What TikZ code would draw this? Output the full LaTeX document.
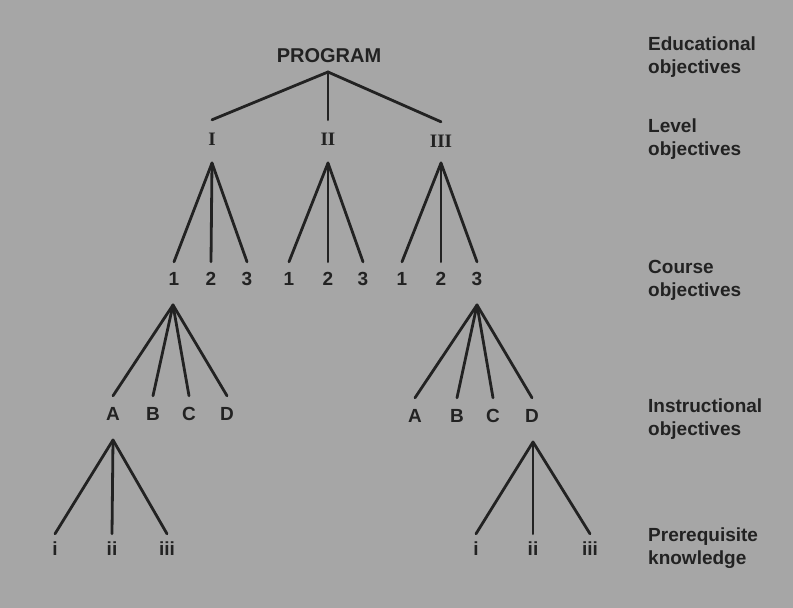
\documentclass[tikz,border=0pt]{standalone}
\usepackage{fontspec}
\setsansfont{Liberation Sans}
\newfontfamily\romfont{Liberation Serif}
\definecolor{bg}{RGB}{166,166,166}
\definecolor{ink}{RGB}{34,34,34}
\begin{document}
\begin{tikzpicture}[x=1pt,y=-1pt,
  every node/.style={text=ink},
  edge/.style={draw=ink,line width=2.8pt,line cap=round},
  lab/.style={font=\sffamily\bfseries\fontsize{19}{19}\selectfont, text height=14pt, text depth=0pt, inner xsep=1pt},
  roman/.style={font=\romfont\bfseries\fontsize{19}{19}\selectfont, text height=13pt, text depth=0pt, inner xsep=1pt, inner ysep=12.5pt},
  course/.style={lab, inner ysep=9pt},
  instr/.style={lab, inner ysep=10pt},
  prereq/.style={lab, inner ysep=7pt},
  side/.style={font=\sffamily\bfseries\fontsize{19}{23}\selectfont, anchor=west, align=left, inner sep=0pt}]
\fill[bg] (0,0) rectangle (793,608);
\useasboundingbox (0,0) rectangle (793,608);
% top
\node[lab, font=\sffamily\bfseries\fontsize{20}{20}\selectfont] (prog) at (329,55) {PROGRAM};
\coordinate (ap) at (328,72);
\node[roman] (r1) at (212,139) {I};
\node[roman] (r2) at (328,139) {II};
\node[roman] (r3) at (441,141) {III};
\draw[edge] (r1.north) -- (ap) -- (r3.north);
\draw[edge] (ap) -- (r2.north);
% level apexes
\coordinate (a1) at (212,163);
\coordinate (a2) at (328,163);
\coordinate (a3) at (441,163);
% course
\node[course] (c11) at (174,278) {1};
\node[course] (c12) at (211,278) {2};
\node[course] (c13) at (247,278) {3};
\node[course] (c21) at (289,278) {1};
\node[course] (c22) at (328,278) {2};
\node[course] (c23) at (363,278) {3};
\node[course] (c31) at (402,278) {1};
\node[course] (c32) at (441,278) {2};
\node[course] (c33) at (477,278) {3};
\foreach \p/\c in {a1/c11,a1/c12,a1/c13,a2/c21,a2/c22,a2/c23,a3/c31,a3/c32,a3/c33}
  \draw[edge] (\p) -- (\c.north);
% course apexes
\coordinate (b1) at (173,305);
\coordinate (b3) at (477,305);
% instructional
\node[instr] (iA) at (113,413) {A};
\node[instr] (iB) at (153,413) {B};
\node[instr] (iC) at (189,413) {C};
\node[instr] (iD) at (227,413) {D};
\node[instr] (jA) at (415,415) {A};
\node[instr] (jB) at (457,415) {B};
\node[instr] (jC) at (493,415) {C};
\node[instr] (jD) at (532,415) {D};
\foreach \c in {iA,iB,iC,iD} \draw[edge] (b1) -- (\c.north);
\foreach \c in {jA,jB,jC,jD} \draw[edge] (b3) -- (\c.north);
% instructional apexes
\coordinate (dA) at (113,440);
\coordinate (dD) at (533,442);
% prerequisite
\node[prereq] (p1) at (55,548) {i};
\node[prereq] (p2) at (112,548) {ii};
\node[prereq] (p3) at (167,548) {iii};
\node[prereq] (q1) at (476,548) {i};
\node[prereq] (q2) at (533,548) {ii};
\node[prereq] (q3) at (590,548) {iii};
\foreach \c in {p1,p2,p3} \draw[edge] (dA) -- (\c.north);
\foreach \c in {q1,q2,q3} \draw[edge] (dD) -- (\c.north);
% side labels
\node[side] (s1) at (648,57) {Educational\\objectives};
\node[side] (s2) at (648,139) {Level\\objectives};
\node[side] (s3) at (648,280) {Course\\objectives};
\node[side] (s4) at (648,419) {Instructional\\objectives};
\node[side] (s5) at (648,548) {Prerequisite\\knowledge};
\end{tikzpicture}
\end{document}
